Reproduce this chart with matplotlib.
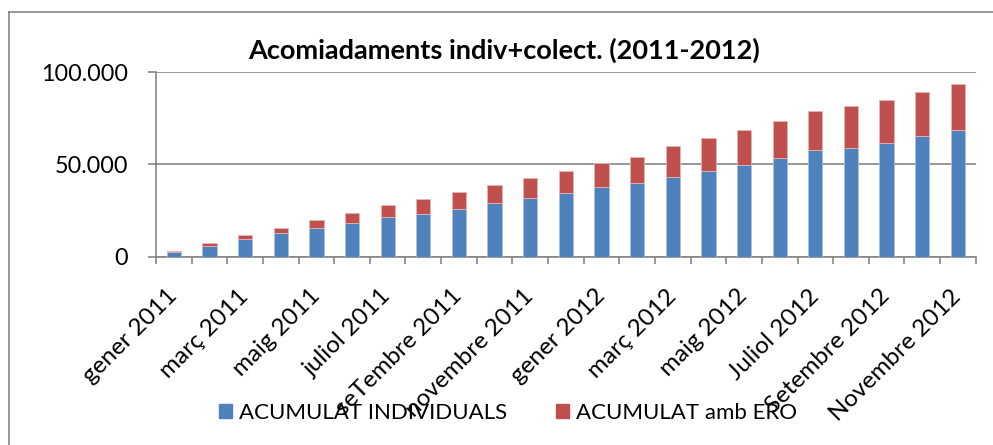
import matplotlib
matplotlib.use("Agg")
import matplotlib.pyplot as plt
from matplotlib.lines import Line2D
from matplotlib.patches import Patch
import numpy as np

months = ["gener 2011", "febrer 2011", "març 2011", "abril 2011", "maig 2011", "juny 2011",
          "juliol 2011", "agost 2011", "seTembre 2011", "octubre 2011", "novembre 2011",
          "desembre 2011", "gener 2012", "febrer 2012", "març 2012", "abril 2012",
          "maig 2012", "juny 2012", "Juliol 2012", "agost 2012", "Setembre 2012",
          "octubre 2012", "Novembre 2012"]
individuals = [2500, 5950, 9580, 12660, 15690, 18070, 21320, 22940, 25970, 28890, 31600,
               34630, 37710, 39720, 43130, 46210, 49620, 53570, 57900, 59200, 61520,
               65690, 68940]
total_amb_ero = [3080, 7400, 11900, 15530, 20020, 23480, 28140, 31060, 34850, 38630, 42420,
                 46370, 50700, 54110, 59900, 64230, 68720, 73590, 79220, 81710, 84790,
                 89120, 93610]
ero = [t - i for t, i in zip(total_amb_ero, individuals)]
yticks = [0, 50000, 100000]
ytick_labels = ["0", "50.000", "100.000"]

W, H = 993, 445
fig = plt.figure(figsize=(W / 100, H / 100), dpi=100)
font = "Lato"

ax = fig.add_axes([156 / W, 1 - 256.7 / H, (975.7 - 156) / W, (256.7 - 72.3) / H])
x = np.arange(len(months))
blue = "#4F81BD"
red = "#C0504D"
ax.bar(x, individuals, width=0.40, color=blue, edgecolor="#A9C0E0", linewidth=0.6, zorder=3)
ax.bar(x, ero, bottom=individuals, width=0.40, color=red, edgecolor="#E5B5B4", linewidth=0.6, zorder=3)

ax.set_xlim(-0.5, len(months) - 0.5)
ax.set_ylim(0, 100000)
grid = "#868686"
for s in ["top", "right"]:
    ax.spines[s].set_visible(False)
for s in ["left", "bottom"]:
    ax.spines[s].set_color(grid)
    ax.spines[s].set_linewidth(1.2)
ax.yaxis.grid(True, color=grid, linewidth=1.2, zorder=0)
ax.set_axisbelow(True)

ax.set_yticks(yticks)
ax.set_yticklabels(ytick_labels, fontsize=16.8, family=font)
ax.tick_params(axis="y", length=6, width=1.2, color=grid, pad=14)

ax.set_xticks(np.arange(-0.5, len(months) + 0.5, 1), minor=True)
ax.tick_params(axis="x", which="minor", length=5, width=1.2, color=grid)
ax.set_xticks(x[::2])
ax.set_xticklabels(months[::2], rotation=45, ha="right", va="center",
                   rotation_mode="anchor", fontsize=17.5, family=font)
ax.tick_params(axis="x", which="major", length=0, pad=26)
for lbl in ax.get_xticklabels():
    lbl.set_zorder(5)

fig.text(504.5 / W, 1 - 50 / H, "Acomiadaments indiv+colect. (2011-2012)", ha="center",
         va="center", fontsize=19.5, fontweight="bold", family=font)

handles = [Patch(color=blue, label="ACUMULAT INDIVIDUALS"),
           Patch(color=red, label="ACUMULAT amb ERO")]
fig.legend(handles=handles, loc="center", bbox_to_anchor=(508 / W, 1 - 413 / H), ncol=2,
           frameon=False, prop={"family": font, "size": 16}, handlelength=0.6,
           handleheight=0.6, handletextpad=0.3, columnspacing=2.2)

fig.add_artist(Line2D([8.5 / W, 8.5 / W], [0, 1 - 12 / H], color="#868686", lw=1.2))
fig.add_artist(Line2D([8.5 / W, 1], [1 - 12 / H, 1 - 12 / H], color="#868686", lw=1.2))

fig.savefig("out.png", dpi=100)
